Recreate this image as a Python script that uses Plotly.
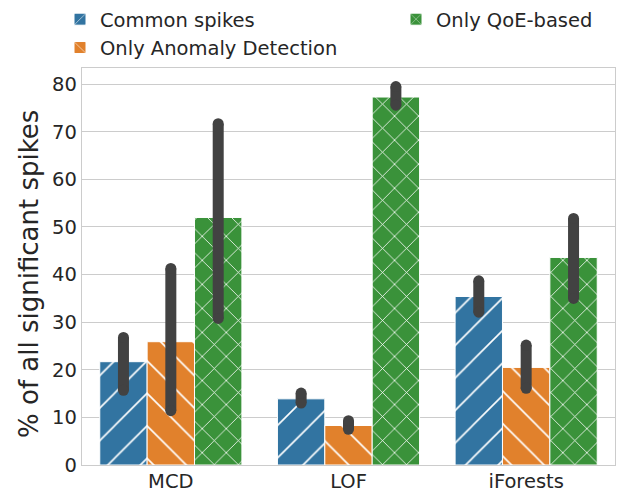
import plotly.graph_objects as go

categories = ["MCD", "LOF", "iForests"]
series_names = ["Common spikes", "Only Anomaly Detection", "Only QoE-based"]

common_vals = [21.7, 13.9, 35.4]
common_lo = [15.7, 13.0, 32.1]
common_hi = [26.8, 15.1, 38.7]

anomaly_vals = [25.9, 8.3, 20.5]
anomaly_lo = [11.4, 7.5, 16.1]
anomaly_hi = [41.3, 9.3, 25.2]

qoe_vals = [52.0, 77.3, 43.6]
qoe_lo = [30.8, 75.6, 35.0]
qoe_hi = [71.7, 79.5, 51.8]

y_ticks = [0, 10, 20, 30, 40, 50, 60, 70, 80]
y_title = "% of all significant spikes"

colors = ["#3274a1", "#e1812c", "#3a923a"]
patterns = ["/", "\\", "x"]
pat_sizes = [23, 23, 17]
pat_solid = [0.07, 0.07, 0.09]
legends = ["legend", "legend", "legend2"]
ranks = [1, 2, 3]

all_vals = [common_vals, anomaly_vals, qoe_vals]
all_lo = [common_lo, anomaly_lo, qoe_lo]
all_hi = [common_hi, anomaly_hi, qoe_hi]

n = len(series_names)
w = 0.8 / n
TXT = "#262626"
FONT = "DejaVu Sans"
W, H = 618, 493
ML, MR, MT, MB = 82, 3, 68, 28

fig = go.Figure()
for j in range(n):
    xs = [i + (j - (n - 1) / 2) * w for i in range(len(categories))]
    fig.add_trace(go.Bar(
        x=xs, y=all_vals[j], width=w, name=series_names[j],
        legend=legends[j], legendrank=ranks[j],
        marker=dict(color=colors[j],
                    line=dict(color="white", width=1),
                    pattern=dict(shape=patterns[j], fgcolor="white", fgopacity=1,
                                 bgcolor=colors[j], size=pat_sizes[j],
                                 solidity=pat_solid[j], fillmode="overlay")),
        hoverinfo="skip",
    ))

for j in range(n):
    ex, ey = [], []
    for i in range(len(categories)):
        xc = i + (j - (n - 1) / 2) * w
        ex += [xc, xc, None]
        ey += [all_lo[j][i], all_hi[j][i], None]
    fig.add_trace(go.Scatter(
        x=ex, y=ey, mode="lines+markers", showlegend=False,
        line=dict(color="#424242", width=11),
        marker=dict(color="#424242", size=11, line=dict(width=0)),
        hoverinfo="skip",
    ))

pw = W - ML - MR
ph = H - MT - MB
fig.update_layout(
    width=W, height=H,
    margin=dict(l=ML, r=MR, t=MT, b=MB, autoexpand=False),
    paper_bgcolor="white", plot_bgcolor="white",
    font=dict(family=FONT, color=TXT, size=19.5),
    barmode="overlay",
    showlegend=True,
    legend=dict(xref="container", yref="container", x=60/W, y=1 + 2/H,
                xanchor="left", yanchor="top", orientation="v",
                font=dict(size=19.5, color=TXT), bgcolor="rgba(0,0,0,0)",
                tracegroupgap=0),
    legend2=dict(xref="container", yref="container", x=396/W, y=1 + 2/H,
                 xanchor="left", yanchor="top", orientation="v",
                 font=dict(size=19.5, color=TXT), bgcolor="rgba(0,0,0,0)"),
    annotations=[dict(
        text=y_title, textangle=-90, showarrow=False,
        xref="paper", yref="paper",
        x=(29 - ML) / pw, y=(H - MB - 274) / ph,
        xanchor="center", yanchor="middle",
        font=dict(size=26, color=TXT, family=FONT),
    )],
)

fig.update_xaxes(
    range=[-0.5, len(categories) - 0.5],
    tickmode="array", tickvals=list(range(len(categories))), ticktext=categories,
    showgrid=False, zeroline=False,
    showline=True, linecolor="#cccccc", linewidth=1.3, mirror=True,
    ticks="", tickfont=dict(size=19.5, color=TXT, family=FONT),
    ticklabelstandoff=-2,
)
fig.update_yaxes(
    range=[0, 83.4],
    tickmode="array", tickvals=y_ticks,
    showgrid=True, gridcolor="#cccccc", gridwidth=1.2, zeroline=False,
    showline=True, linecolor="#cccccc", linewidth=1.3, mirror=True,
    ticks="", tickfont=dict(size=19.5, color=TXT, family=FONT),
)

fig.write_html("out.html")
